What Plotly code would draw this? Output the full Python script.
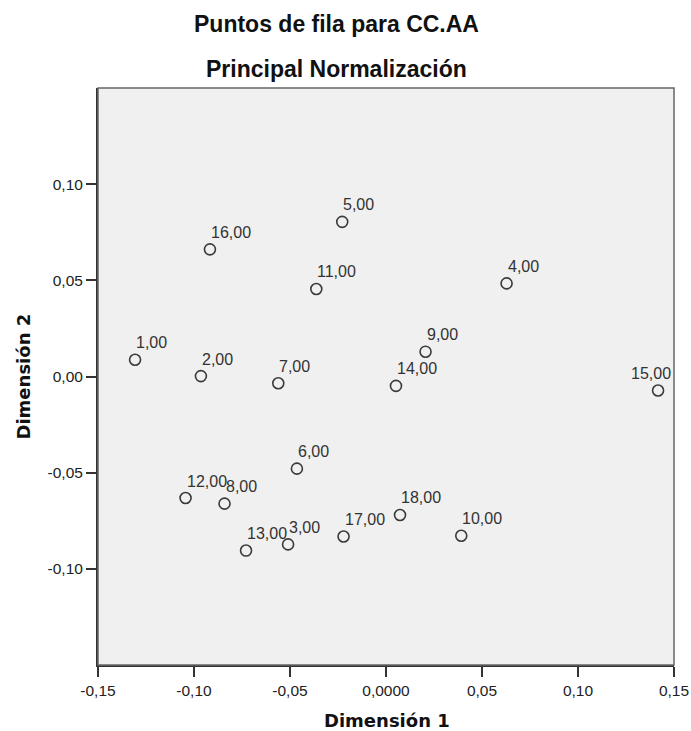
import plotly.graph_objects as go

# Data
labels = ["1,00", "2,00", "3,00", "4,00", "5,00", "6,00", "7,00", "8,00", "9,00",
          "10,00", "11,00", "12,00", "13,00", "14,00", "15,00", "16,00", "17,00", "18,00"]
dim1 = [-0.1307, -0.0964, -0.0510, 0.0628, -0.0228, -0.0464, -0.0561, -0.0841, 0.0206,
        0.0392, -0.0363, -0.1044, -0.0729, 0.0052, 0.1417, -0.0917, -0.0221, 0.0073]
dim2 = [0.0087, 0.0002, -0.0873, 0.0484, 0.0804, -0.0479, -0.0035, -0.0661, 0.0129,
        -0.0828, 0.0455, -0.0632, -0.0905, -0.0049, -0.0073, 0.0661, -0.0832, -0.0720]

x_tickvals = [-0.15, -0.10, -0.05, 0.0, 0.05, 0.10, 0.15]
x_ticktext = ["-0,15", "-0,10", "-0,05", "0,0000", "0,05", "0,10", "0,15"]
y_tickvals = [-0.10, -0.05, 0.0, 0.05, 0.10]
y_ticktext = ["-0,10", "-0,05", "0,00", "0,05", "0,10"]

title_1 = "Puntos de fila para CC.AA"
title_2 = "Principal Normalización"
x_title = "Dimensión 1"
y_title = "Dimensión 2"

W, H = 691, 731
L, R, T, B = 98, 17, 88, 66
pw = W - L - R
ph = H - T - B
X_RANGE = [-0.15, 0.15]
Y_RANGE = [-0.15, 0.15]

fig = go.Figure()
fig.add_trace(go.Scatter(
    x=dim1, y=dim2, mode="markers",
    marker=dict(symbol="circle-open", size=11, color="#3a3a3a", line=dict(width=1.6, color="#3a3a3a")),
    hoverinfo="text", text=labels, showlegend=False,
))

label_font = dict(family="Liberation Sans, Arial, sans-serif", size=16, color="#333333")
annotations = []
for lx, ly, lt in zip(dim1, dim2, labels):
    # keep the label inside the plotting area (as the original does for the right-most point)
    px_point = (lx - X_RANGE[0]) / (X_RANGE[1] - X_RANGE[0]) * pw
    est_width = len(lt) * 0.5 * label_font["size"]
    if px_point + est_width > pw:
        annotations.append(dict(
            x=X_RANGE[1], y=ly, xref="x", yref="y", text=lt, showarrow=False,
            xanchor="right", yanchor="middle", xshift=-1, yshift=17, font=label_font))
    else:
        annotations.append(dict(
            x=lx, y=ly, xref="x", yref="y", text=lt, showarrow=False,
            xanchor="left", yanchor="middle", xshift=-1, yshift=17, font=label_font))

def py(pix):
    return (H - B - pix) / ph

def px(pix):
    return (pix - L) / pw

title_font = dict(family="Liberation Sans, Arial, sans-serif", size=23, color="#111111")
axis_title_font = dict(family="DejaVu Sans, sans-serif", size=18, color="#111111")

annotations += [
    dict(x=px(336), y=py(24), xref="paper", yref="paper", text="<b>" + title_1 + "</b>",
         showarrow=False, xanchor="center", yanchor="middle", font=title_font),
    dict(x=px(336), y=py(69), xref="paper", yref="paper", text="<b>" + title_2 + "</b>",
         showarrow=False, xanchor="center", yanchor="middle", font=title_font),
    dict(x=px(386.5), y=py(720), xref="paper", yref="paper", text="<b>" + x_title + "</b>",
         showarrow=False, xanchor="center", yanchor="middle", font=axis_title_font),
    dict(x=px(23), y=0.5, xref="paper", yref="paper", text="<b>" + y_title + "</b>",
         showarrow=False, xanchor="center", yanchor="middle", textangle=-90, font=axis_title_font),
]

tickfont = dict(family="Liberation Sans, Arial, sans-serif", size=15.5, color="#222222")

axis_common = dict(
    ticks="outside", ticklen=10, tickwidth=2, tickcolor="#333333",
    showgrid=False, zeroline=False, showline=True, linewidth=2, linecolor="#333333",
    tickfont=tickfont, fixedrange=True, automargin=False,
)

fig.update_layout(
    width=W, height=H,
    margin=dict(l=L, r=R, t=T, b=B, pad=0, autoexpand=False),
    paper_bgcolor="white", plot_bgcolor="#f0f0f0",
    annotations=annotations,
    xaxis=dict(range=X_RANGE, tickvals=x_tickvals, ticktext=x_ticktext, **axis_common),
    yaxis=dict(range=Y_RANGE, tickvals=y_tickvals, ticktext=y_ticktext, **axis_common),
    shapes=[dict(type="rect", xref="paper", yref="paper", x0=0, y0=0, x1=1, y1=1,
                 line=dict(color="#666666", width=1.5), layer="above")],
)

fig.write_html("out.html")
